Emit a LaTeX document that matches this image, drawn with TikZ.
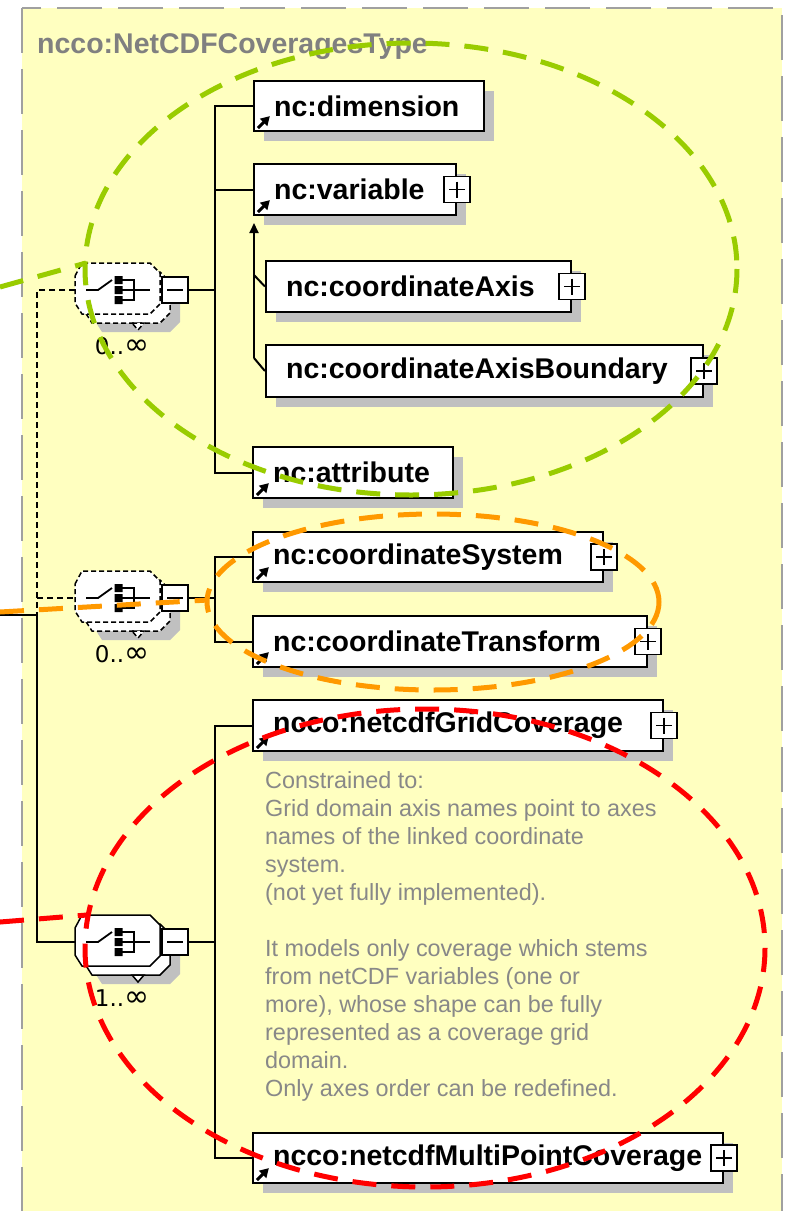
\documentclass[tikz,border=0pt]{standalone}
\usepackage{fontspec}
\setmainfont{Liberation Sans}
\newfontfamily\lblfont{DejaVu Sans}
\usetikzlibrary{shadows,arrows.meta,calc}
\definecolor{bgyellow}{RGB}{255,255,192}
\definecolor{framegray}{RGB}{160,160,160}
\definecolor{shadowgray}{RGB}{192,192,192}
\definecolor{titlegray}{RGB}{128,128,128}
\definecolor{notegray}{RGB}{136,136,136}
\definecolor{hlgreen}{RGB}{153,204,0}
\definecolor{hlorange}{RGB}{255,153,0}
\definecolor{hlred}{RGB}{255,0,0}

\newcommand{\elem}[7]{%
  \node[ebox, minimum width={(#4)-(#2)}, minimum height={(#5)-(#3)}] (#1) at ({((#2)+(#4))/2},{((#3)+(#5))/2}) {};
  \node[etext] (#1-t) at ($(#1.west)+(#6,0)$) {#7};
}
\newcommand{\refarrow}[1]{%
  \draw[line width=3pt, -{Triangle[length=9pt,width=10pt]}] ($(#1.south west)+(5,-4)$) -- ($(#1.south west)+(17,-16)$);
}
\newcommand{\plusbox}[1]{%
  \node[pbox] (#1-p) at (#1.east) {};
  \draw[line width=1.8pt] ($(#1-p.center)+(-8,0)$) -- ($(#1-p.center)+(8,0)$)
                          ($(#1-p.center)+(0,-8)$) -- ($(#1-p.center)+(0,8)$);
}
\newcommand{\infsym}{{\fontsize{30}{30}\selectfont ∞}}
\newcommand{\compositor}[4]{%
  \begin{scope}[shift={(0,#2)}]
    \fill[shadowgray] (95,4) -- (102,-9) -- (170,-9) -- (180,1) -- (180,32) -- (170,42) -- (102,42) -- (95,31) -- cycle;
    \draw[#3, fill=white] (85,-5) -- (92,-18) -- (160,-18) -- (170,-8) -- (170,23) -- (160,33) -- (92,33) -- (85,22) -- cycle;
    \draw[#3, fill=white] (75,-14) -- (82,-27) -- (150,-27) -- (160,-17) -- (160,14) -- (150,24) -- (82,24) -- (75,13) -- cycle;
    \draw[#3, fill=white] (132,33) -- (144,33) -- (138,40) -- cycle;
    \draw[line width=1.8pt] (86,0) -- (98,0) -- (112,-10);
    \fill (114.5,-14) rectangle (122.5,-6) (114.5,-4) rectangle (122.5,4) (114.5,6) rectangle (122.5,14);
    \draw[line width=1.8pt] (122,-10) -- (134,-10) -- (134,10) -- (122,10) (122,0) -- (150,0);
    \node[pbox] (#1-m) at (175,0) {};
    \draw[line width=1.8pt] (167,0) -- (183,0);
    \coordinate (#1-in) at (75,0);
    \node[mult] (#1-l) at (122,56) {#4};
  \end{scope}
}

\begin{document}
\begin{tikzpicture}[x=1pt,y=-1pt,
  ebox/.style={draw=black, line width=2.2pt, fill=white, inner sep=0pt,
    drop shadow={shadow xshift=10pt, shadow yshift=-10pt, fill=shadowgray, opacity=1}},
  etext/.style={anchor=west, inner sep=0pt, font=\fontsize{28.5}{30}\selectfont\bfseries},
  pbox/.style={draw=black, line width=1.6pt, fill=white, minimum size=26pt, inner sep=0pt},
  conn/.style={line width=2pt, black},
  optconn/.style={line width=1.6pt, black, dash pattern=on 6pt off 4pt},
  optborder/.style={line width=1.5pt, black, dash pattern=on 5pt off 3pt},
  solidborder/.style={line width=1.5pt, black},
  hl/.style={line width=5pt, dash pattern=on 24pt off 15pt},
  mult/.style={font=\lblfont\fontsize{23}{24}\selectfont, inner sep=0pt},
  note/.style={anchor=north west, inner sep=0pt, align=left, text=notegray,
    font=\fontsize{23.4}{28}\selectfont},
]
\useasboundingbox (0,0) rectangle (785,1211);
\clip (0,0) rectangle (785,1211);

% frame
\draw[framegray, line width=2.5pt, dash pattern=on 45pt off 16pt, fill=bgyellow] (22,8) rectangle (782,1240);
\node[anchor=base west, inner sep=0pt, font=\fontsize{28.5}{30}\selectfont\bfseries, text=titlegray] (title) at (37,53) {ncco:NetCDFCoveragesType};

% connector coordinates
\coordinate (lin) at (0,615);
\coordinate (lt) at (37,290);
\coordinate (lm) at (37,598);
\coordinate (lb) at (37,615);
\coordinate (j1) at (215,290);
\coordinate (j2) at (215,598);
\coordinate (j3) at (215,942);
\coordinate (sgt) at (254,223);
\coordinate (sgm) at (254,275);
\coordinate (sgb) at (254,358);

% elements
\elem{dim}{254}{81}{484}{131}{21}{nc:dimension}
\elem{var}{254}{164}{456}{215}{21}{nc:variable}
\elem{cax}{266}{261}{571}{312}{21}{nc:coordinateAxis}
\elem{caxb}{266}{345}{703}{397}{21}{nc:coordinateAxisBoundary}
\elem{attr}{253}{447}{453}{498}{21}{nc:attribute}
\elem{csys}{253}{532}{603}{582}{21}{nc:coordinateSystem}
\elem{ctr}{253}{616}{647}{667}{21}{nc:coordinateTransform}
\elem{grid}{253}{700}{663}{751}{21}{ncco:netcdfGridCoverage}
\elem{mpc}{253}{1133}{723}{1183}{21}{ncco:netcdfMultiPointCoverage}

\foreach \n in {dim,var,attr,csys,ctr,grid,mpc} {\refarrow{\n}}
\foreach \n in {var,cax,caxb,csys,ctr,grid,mpc} {\plusbox{\n}}

% compositors
\compositor{s1}{290}{optborder}{0..\infsym}
\compositor{s2}{598}{optborder}{0..\infsym}
\compositor{s3}{942}{solidborder}{1..\infsym}

% connectors
\draw[optconn] (s1-in) -- (lt) -- (lb);
\draw[optconn] (lm) -- (s2-in);
\draw[conn] (lin) -- (lb) |- (s3-in);
\draw[conn] (s1-m.east) -- (j1);
\draw[conn] (j1) |- (dim.west);
\draw[conn] (j1) |- (var.west);
\draw[conn] (j1) |- (attr.west);
\draw[conn] (s2-m.east) -- (j2);
\draw[conn] (j2) |- (csys.west);
\draw[conn] (j2) |- (ctr.west);
\draw[conn] (s3-m.east) -- (j3);
\draw[conn] (j3) |- (grid.west);
\draw[conn] (j3) |- (mpc.west);
\draw[conn, -{Triangle[length=10pt,width=9pt]}] (sgb) -- (sgt);
\draw[conn] (sgm) -- (cax.west);
\draw[conn] (sgb) -- (caxb.west);

% annotation
\node[note] (gridnote) at (265,771) {Constrained to:\\Grid domain axis names point to axes\\names of the linked coordinate\\system.\\(not yet fully implemented).\\[28pt]It models only coverage which stems\\from netCDF variables (one or\\more), whose shape can be fully\\represented as a coverage grid\\domain.\\Only axes order can be redefined.};

% highlight ellipses
\coordinate (gp0) at (0,287); \coordinate (gp1) at (86,263);
\coordinate (op0) at (0,612); \coordinate (op1) at (208,600);
\coordinate (rp0) at (0,922); \coordinate (rp1) at (87,915);
\draw[hl, hlgreen] (411,269) ellipse [x radius=326, y radius=226];
\draw[hl, hlgreen] (gp0) -- (gp1);
\draw[hl, hlorange] (433,602) ellipse [x radius=226, y radius=88];
\draw[hl, hlorange] (op0) -- (op1);
\draw[hl, hlred] (425,948) ellipse [x radius=340, y radius=239];
\draw[hl, hlred] (rp0) -- (rp1);
\end{tikzpicture}
\end{document}
